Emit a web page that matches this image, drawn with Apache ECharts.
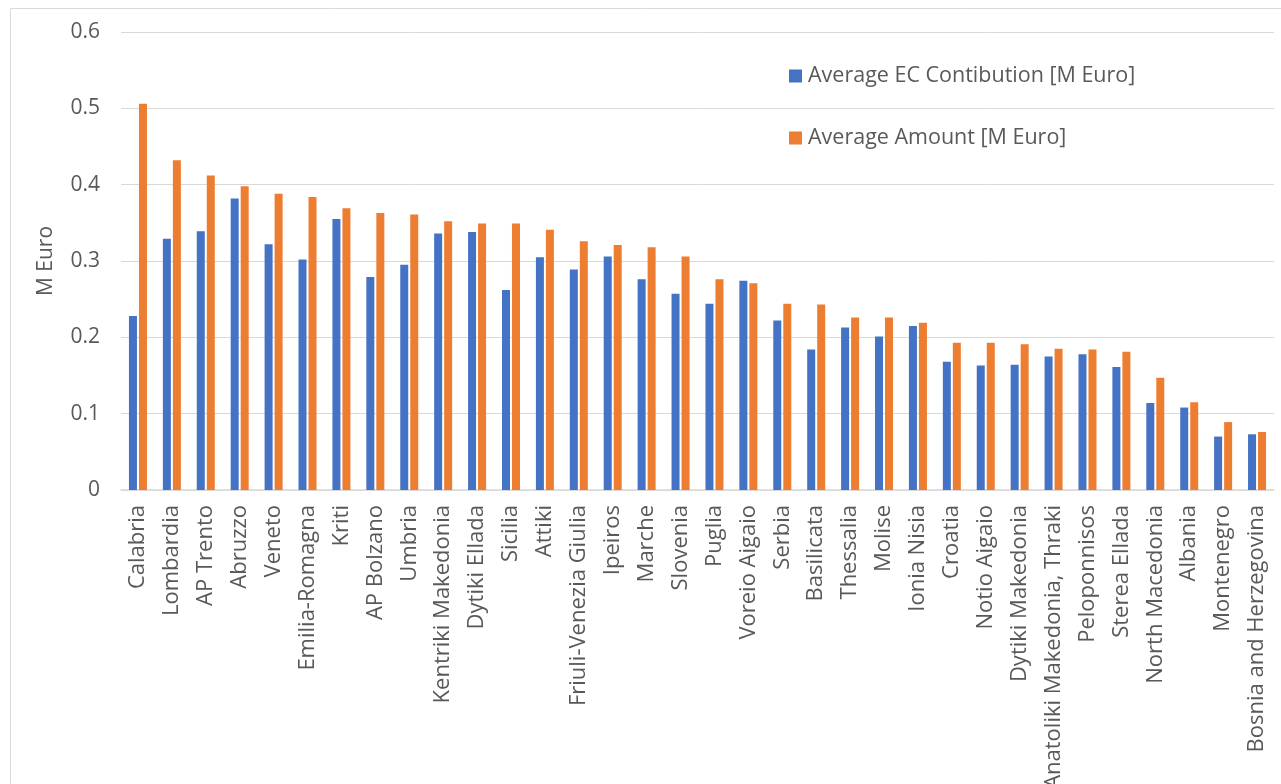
<!DOCTYPE html>
<html>
<head>
<meta charset="utf-8">
<script src="https://cdn.jsdelivr.net/npm/echarts@6/dist/echarts.min.js"></script>
<style>html,body{margin:0;padding:0;background:#fff;}#c{width:1281px;height:784px;}</style>
</head>
<body>
<div id="c"></div>
<script>
const categories = ["Calabria","Lombardia","AP Trento","Abruzzo","Veneto","Emilia-Romagna","Kriti","AP Bolzano","Umbria","Kentriki Makedonia","Dytiki Ellada","Sicilia","Attiki","Friuli-Venezia Giulia","Ipeiros","Marche","Slovenia","Puglia","Voreio Aigaio","Serbia","Basilicata","Thessalia","Molise","Ionia Nisia","Croatia","Notio Aigaio","Dytiki Makedonia","Anatoliki Makedonia, Thraki","Peloponnisos","Sterea Ellada","North Macedonia","Albania","Montenegro","Bosnia and Herzegovina"];
const ecContribution = [0.228,0.329,0.339,0.382,0.322,0.302,0.355,0.279,0.295,0.336,0.338,0.262,0.305,0.289,0.306,0.276,0.257,0.244,0.274,0.222,0.184,0.213,0.201,0.215,0.168,0.163,0.164,0.175,0.178,0.161,0.114,0.108,0.070,0.073];
const avgAmount = [0.506,0.432,0.412,0.398,0.388,0.384,0.369,0.363,0.361,0.352,0.349,0.349,0.341,0.326,0.321,0.318,0.306,0.276,0.271,0.244,0.243,0.226,0.226,0.219,0.193,0.193,0.191,0.185,0.184,0.181,0.147,0.115,0.089,0.076];
const seriesNames = ["Average EC Contibution [M Euro]","Average Amount [M Euro]"];
const yTicks = {min:0, max:0.6, interval:0.1};

const font = "'Open Sans', 'Noto Sans', sans-serif";
const chart = echarts.init(document.getElementById('c'));
chart.setOption({
  animation:false,
  textStyle:{fontFamily:font},
  graphic:[{type:'rect', shape:{x:10.5,y:8.5,width:1300,height:800}, style:{fill:'none', stroke:'#d9d9d9', lineWidth:1}, silent:true}],
  legend:{
    orient:'vertical', left:784, top:60, itemWidth:13, itemHeight:13, itemGap:40,
    icon:'rect',
    textStyle:{fontSize:21.5, color:'#595959', fontFamily:font, padding:[0,0,0,1]},
    data:seriesNames
  },
  grid:{left:121, right:7, top:32, bottom:294, containLabel:false, outerBoundsMode:'none'},
  xAxis:{
    type:'category', data:categories,
    axisLine:{lineStyle:{color:'#d9d9d9', width:1.5}},
    axisTick:{show:false},
    axisLabel:{rotate:90, interval:0, fontSize:22, color:'#595959', fontFamily:font, margin:15, padding:[3,0,0,0]}
  },
  yAxis:{
    type:'value', min:yTicks.min, max:yTicks.max, interval:yTicks.interval,
    name:'M Euro', nameLocation:'middle', nameGap:64,
    nameTextStyle:{fontSize:21, color:'#595959', fontFamily:font},
    axisLine:{show:false}, axisTick:{show:false},
    axisLabel:{fontSize:21, color:'#595959', fontFamily:font, margin:21},
    splitLine:{lineStyle:{color:'#d9d9d9', width:1}}
  },
  series:[
    {name:seriesNames[0], type:'bar', data:ecContribution, barWidth:8, barGap:'25%', itemStyle:{color:'#4472C4'}},
    {name:seriesNames[1], type:'bar', data:avgAmount, barWidth:8, barGap:'25%', itemStyle:{color:'#ED7D31'}}
  ]
});
</script>
</body>
</html>
